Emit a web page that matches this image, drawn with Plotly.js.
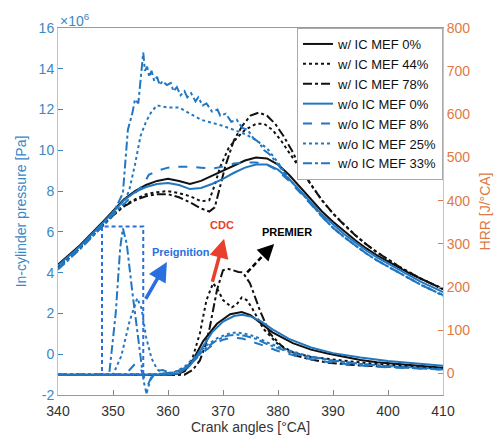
<!DOCTYPE html>
<html><head><meta charset="utf-8">
<script src="https://cdn.plot.ly/plotly-3.0.1.min.js"></script>
<style>body{margin:0;background:#fff}#c{width:503px;height:446px}</style>
</head><body><div id="c"></div>
<script>
// ---------- Pressure data [x1e6 Pa] ----------
const caP_w0 = [340,344,348,350,352,354,356,358,360,362,364,366,368,370,372,374,376,378,380,382,384,386,388,390,392,394,396,398,400,402,404,406,408,410];
const p_w0   = [4.4,5.35,6.45,7.05,7.6,8.0,8.3,8.5,8.6,8.5,8.35,8.5,8.75,9.0,9.25,9.5,9.65,9.6,9.3,8.8,8.2,7.6,7.0,6.5,6.05,5.6,5.2,4.85,4.55,4.25,3.95,3.7,3.45,3.2];

const caP_w44 = [340,344,348,350,352,354,356,358,360,362,364,366,367.5,368.5,369.5,371,372.5,374,376,377.5,379,380.5,382,384,386,388,390,392,394,396,398,400,402,404,406,408,410];
const p_w44   = [4.25,5.2,6.3,6.85,7.3,7.6,7.85,7.95,8.0,7.9,7.75,7.5,7.55,8.3,9.2,10.1,10.6,11.0,11.3,11.3,11.0,10.5,9.9,9.1,8.3,7.55,6.9,6.35,5.85,5.4,5.0,4.65,4.3,4.0,3.7,3.45,3.2];

const caP_w78 = [340,344,348,350,352,354,356,358,360,362,364,366,367.5,368.5,369.5,370.5,372,373.5,375,376.5,378,379.5,381,382.5,384,386,388,390,392,394,396,398,400,402,404,406,408,410];
const p_w78   = [4.2,5.2,6.25,6.8,7.25,7.55,7.75,7.85,7.85,7.7,7.45,7.15,7.0,7.2,8.3,9.3,10.5,11.2,11.7,11.85,11.7,11.3,10.7,10.0,9.2,8.3,7.55,6.9,6.35,5.85,5.4,5.0,4.65,4.3,4.0,3.7,3.45,3.2];

const caP_wo0 = [340,344,348,350,352,354,356,358,360,362,364,366,368,370,372,374,376,378,380,382,384,386,388,390,392,394,396,398,400,402,404,406,408,410];
const p_wo0   = [4.35,5.3,6.4,7.0,7.55,7.95,8.2,8.35,8.4,8.3,8.1,8.15,8.35,8.6,8.9,9.15,9.3,9.3,9.05,8.6,8.05,7.45,6.85,6.35,5.9,5.5,5.1,4.75,4.45,4.15,3.85,3.55,3.3,3.05];

const caP_wo8 = [340,344,348,350,352,354,355.5,356.5,358,360,362,364,366,368,370,372,374,376,378,380,382,384,386,388,390,392,394,396,398,400,402,404,406,408,410];
const p_wo8   = [4.2,5.2,6.3,6.85,7.4,7.9,8.3,8.8,9.0,9.15,9.2,9.2,9.15,9.1,9.2,9.35,9.4,9.4,9.3,9.0,8.5,7.95,7.35,6.75,6.2,5.75,5.35,4.95,4.6,4.3,4.0,3.7,3.4,3.15,2.9];

const caP_wo25 = [340,344,348,350,352,353,354,355,356,357,358,360,362,364,366,368,370,372,374,376,378,380,382,384,386,388,390,392,394,396,398,400,402,404,406,408,410];
const p_wo25   = [4.2,5.2,6.3,6.85,7.4,8.1,9.3,10.7,11.4,11.9,12.2,12.1,12.1,11.8,11.5,11.35,11.2,11.0,10.8,10.5,10.1,9.4,8.6,8.0,7.35,6.75,6.2,5.75,5.35,4.95,4.6,4.3,4.0,3.7,3.4,3.15,2.9];

const caP_wo33 = [340,344,348,350,351.8,352.7,353.5,354,354.6,355,355.5,355.8,356.2,356.6,357,357.5,358,358.5,359,359.8,360.5,361,361.6,362.3,363,363.5,364.2,365,365.5,366.3,367,368,369,369.5,370.5,371.5,372.5,373.5,374.5,375.5,376.5,377.5,378.5,380,382,384,386,388,390,392,394,396,398,400,402,404,406,408,410];
const p_wo33   = [4.15,5.15,6.25,6.9,7.9,11.0,11.8,12.5,12.3,13.5,14.8,13.9,14.1,13.6,13.9,13.4,13.6,13.2,13.4,13.2,13.3,12.9,13.1,12.7,12.9,12.6,12.8,12.4,12.6,12.2,12.3,11.9,12.0,11.7,11.8,11.4,11.5,11.1,11.0,10.6,10.4,10.0,9.8,9.3,8.6,8.0,7.35,6.75,6.2,5.75,5.35,4.95,4.6,4.3,4.0,3.7,3.4,3.15,2.85];

// ---------- HRR data [J/°CA] ----------
const caH_w0 = [340,350,360,362,363,364.5,366.4,368.9,371.3,373.4,375,376.7,379,382.7,386,389,392,395,398,401,405,410];
const h_w0   = [-3,-3,-3,0,5,30,75,115,137,142,135,118,95,70,55,46,38,31,26,23,18,13];

const caH_w44 = [340,362,363.5,364.5,365.8,367,368.2,369,370,371.6,372.5,373.4,374.3,375.2,376.3,377.3,379.8,382.7,386,389,393,397,401,405,410];
const h_w44   = [-3,-3,10,37,93,170,209,195,170,153,160,176,170,153,128,104,70,49,38,33,28,23,19,15,11];

const caH_w78 = [340,363,364.5,365.8,366.8,367.6,368.9,370,371,371.8,372.8,373.6,374.9,375.8,376.7,378.5,380.9,383,386,389,393,397,401,405,410];
const h_w78   = [-3,-3,8,30,65,107,193,239,242,239,235,234,209,178,146,93,60,42,32,25,20,17,15,13,11];

const caH_wo0 = [340,350,360,362,364,366,368,370,372,373.5,375,377,379,382,386,390,395,400,405,410];
const h_wo0   = [-3,-3,-3,0,18,55,95,120,133,136,132,120,102,80,60,47,37,29,23,18];

const caH_wo8 = [340,352,353,354,355,355.7,356.3,357,358,359,360,362,364,366,368,370,371.8,373.5,375,377,380,384,388,392,396,400,405,410];
const h_wo8   = [-3,-3,8,22,12,-10,-28,-8,6,8,3,5,20,45,65,78,83,81,75,66,52,38,28,22,17,14,11,9];

const caH_wo25 = [340,350,351.5,353,354.4,355.2,356,357,358,359,361,363,365,367,369,371,372.5,374,376,378,381,385,390,395,400,405,410];
const h_wo25   = [-3,-3,40,120,174,150,85,35,10,0,2,15,40,65,82,92,95,92,85,72,57,42,30,22,17,13,10];

const caH_wo33 = [340,349.3,350.5,351.3,351.8,352.5,353.5,354.3,355,355.6,356.1,356.8,357.5,359,361,363,365,367,369,371,372.5,374,376,378,381,385,390,395,400,405,410];
const h_wo33   = [-3,-3,140,290,336,300,190,105,30,-20,-46,-15,-3,0,2,12,35,60,78,88,90,87,80,68,54,40,29,21,16,12,9];

// ---------- labels / ticks ----------
const names = ['w/ IC MEF 0%','w/ IC MEF 44%','w/ IC MEF 78%','w/o IC MEF 0%','w/o IC MEF 8%','w/o IC MEF 25%','w/o IC MEF 33%'];
const xTicks = [340,350,360,370,380,390,400,410];
const yTicks = [-2,0,2,4,6,8,10,12,14,16];
const yTickText = ['-2','0','2','4','6','8','10','12','14','16'];
const y2Ticks = [0,100,200,300,400,500,600,700,800];

const BLK = '#111111', BLU = '#2277c0';
const styles = [
  {c:BLK, d:'solid'}, {c:BLK, d:'dot'}, {c:BLK, d:'dashdot'},
  {c:BLU, d:'solid'}, {c:BLU, d:'dash'}, {c:BLU, d:'dot'}, {c:BLU, d:'dashdot'}
];
const pX = [caP_w0,caP_w44,caP_w78,caP_wo0,caP_wo8,caP_wo25,caP_wo33];
const pY = [p_w0,p_w44,p_w78,p_wo0,p_wo8,p_wo25,p_wo33];
const hX = [caH_w0,caH_w44,caH_w78,caH_wo0,caH_wo8,caH_wo25,caH_wo33];
const hY = [h_w0,h_w44,h_w78,h_wo0,h_wo8,h_wo25,h_wo33];

const traces = [];
for (let i=0;i<7;i++){
  traces.push({x:pX[i], y:pY[i], type:'scatter', mode:'lines', name:names[i],
    line:{color:styles[i].c, dash:styles[i].d, width:2}, legendgroup:'g'+i});
}
for (let i=0;i<7;i++){
  traces.push({x:hX[i], y:hY[i], yaxis:'y2', type:'scatter', mode:'lines', name:names[i],
    showlegend:false, line:{color:styles[i].c, dash:styles[i].d, width:2}, legendgroup:'g'+i});
}

const AXB = '#3a87c6', AXO = '#dd7a45', ANB = '#2a6fe0', RED = '#e8402c';
const font = 'Liberation Sans, Arial, sans-serif';

const layout = {
  width:503, height:446,
  margin:{l:58, r:60, t:28, b:51},
  paper_bgcolor:'#fff', plot_bgcolor:'#fff',
  font:{family:font, size:14, color:'#333'},
  showlegend:true,
  legend:{x:1, y:1, xanchor:'right', yanchor:'top', bgcolor:'#fff', bordercolor:'#aaa', borderwidth:1,
    font:{size:13, color:'#111'}, tracegroupgap:0, itemwidth:30},
  xaxis:{range:[340,410], tickvals:xTicks, ticks:'inside', ticklen:5, tickcolor:'#888',
    showline:true, linecolor:'#999', mirror:true, showgrid:false, zeroline:false,
    tickfont:{size:14, color:'#333'}, ticklabelstandoff:3,
    title:{text:'Crank angles [°CA]', font:{size:14, color:'#333'}, standoff:4}},
  yaxis:{range:[-2,16], tickvals:yTicks, ticktext:yTickText, ticks:'inside', ticklen:5, tickcolor:AXB,
    showline:true, linecolor:'#a9c9e6', showgrid:false, zeroline:false,
    tickfont:{size:14, color:AXB},
    title:{text:'In-cylinder pressure [Pa]', font:{size:14, color:AXB}, standoff:8}},
  yaxis2:{range:[-50,800], overlaying:'y', side:'right', tickvals:y2Ticks, ticks:'inside', ticklen:5, tickcolor:AXO,
    showline:true, linecolor:'#f0b898', showgrid:false, zeroline:false,
    tickfont:{size:14, color:AXO},
    title:{text:'HRR [J/°CA]', font:{size:14, color:AXO}, standoff:10}},
  shapes:[
    {type:'rect', xref:'x', yref:'y2', x0:348, x1:355.5, y0:-3, y1:340,
      line:{color:ANB, width:2, dash:'4px,3px'}},
    {type:'line', xref:'x', yref:'y2', x0:374.4, y0:234, x1:378.0, y1:283,
      line:{color:'#000', width:2.5, dash:'5px,3px'}}
  ],
  annotations:[
    {xref:'paper', yref:'paper', x:0, y:1, xanchor:'left', yanchor:'bottom', yshift:-3,
      text:'×10<sup>6</sup>', showarrow:false, font:{size:14, color:AXB}},
    {xref:'x', yref:'y2', x:369.8, y:343, text:'<b>CDC</b>', showarrow:false, font:{size:11, color:RED}},
    {xref:'x', yref:'y2', x:381.6, y:327, text:'<b>PREMIER</b>', showarrow:false, font:{size:11, color:'#000'}},
    {xref:'x', yref:'y2', x:362.3, y:281, text:'<b>Preignition</b>', showarrow:false, font:{size:11, color:ANB}},
    {xref:'x', yref:'y2', x:370.2, y:312, axref:'x', ayref:'y2', ax:368, ay:209, text:'',
      showarrow:true, arrowhead:2, arrowsize:1.1, arrowwidth:3.5, arrowcolor:RED},
    {xref:'x', yref:'y2', x:359.8, y:258, axref:'x', ayref:'y2', ax:355.8, ay:169, text:'',
      showarrow:true, arrowhead:2, arrowsize:1.1, arrowwidth:3.5, arrowcolor:ANB},
    {xref:'x', yref:'y2', x:379.3, y:300, axref:'x', ayref:'y2', ax:377.6, ay:278, text:'',
      showarrow:true, arrowhead:2, arrowsize:1.1, arrowwidth:3, arrowcolor:'#000'}
  ]
};

Plotly.newPlot('c', traces, layout, {displayModeBar:false, staticPlot:true});
</script>
</body></html>
